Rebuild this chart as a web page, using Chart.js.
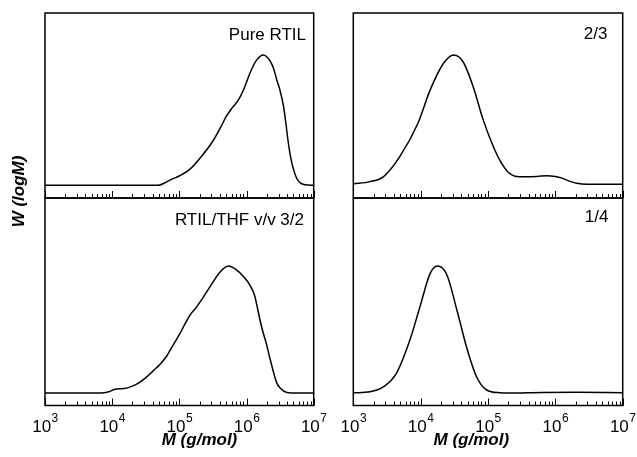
<!DOCTYPE html>
<html>
<head>
<meta charset="utf-8">
<title>GPC traces</title>
<script src="https://cdn.jsdelivr.net/npm/chart.js@4.4.1/dist/chart.umd.min.js"></script>
<style>
  html, body { margin: 0; padding: 0; background: #fff; }
  #wrap { position: relative; width: 637px; height: 457px; }
  #wrap canvas { position: absolute; left: 0; top: 0; }
</style>
</head>
<body>
<div id="wrap">
  <canvas id="c-tl" width="637" height="457"></canvas>
  <canvas id="c-tr" width="637" height="457"></canvas>
  <canvas id="c-bl" width="637" height="457"></canvas>
  <canvas id="c-br" width="637" height="457"></canvas>
</div>
<script>
// x values are log10(M); y is W(logM), peak = 1

// Pure RTIL
const pureLogM = [3.00, 4.00, 4.69, 4.78, 4.86, 5.01, 5.15, 5.31, 5.50, 5.62, 5.70, 5.78, 5.88, 5.97, 6.05, 6.15, 6.25, 6.35, 6.40, 6.45, 6.50, 6.55, 6.585, 6.62, 6.655, 6.695, 6.75, 6.80, 6.87, 7.00];
const pureW    = [0, 0, 0, 0.018, 0.04, 0.075, 0.12, 0.21, 0.34, 0.45, 0.53, 0.59, 0.655, 0.75, 0.86, 0.96, 1.0, 0.955, 0.90, 0.81, 0.725, 0.61, 0.48, 0.335, 0.22, 0.13, 0.05, 0.018, 0.004, 0];

// RTIL/THF 2/3
const r23LogM = [3.00, 3.25, 3.45, 3.69, 3.96, 4.14, 4.34, 4.49, 4.63, 4.78, 4.93, 5.08, 5.20, 5.30, 5.40, 5.55, 5.73, 5.87, 6.00, 6.10, 6.22, 6.32, 6.47, 7.00];
const r23W    = [0.01, 0.028, 0.067, 0.22, 0.476, 0.73, 0.936, 1.0, 0.948, 0.757, 0.50, 0.296, 0.17, 0.10, 0.07, 0.065, 0.068, 0.074, 0.068, 0.055, 0.03, 0.015, 0.008, 0.008];

// RTIL/THF 3/2
const r32LogM = [3.00, 3.82, 3.95, 4.04, 4.17, 4.30, 4.41, 4.51, 4.61, 4.71, 4.81, 4.91, 5.01, 5.10, 5.16, 5.23, 5.35, 5.46, 5.60, 5.73, 5.85, 5.95, 6.05, 6.125, 6.15, 6.225, 6.30, 6.35, 6.45, 6.50, 6.60, 6.75, 7.00];
const r32W    = [0, 0, 0.01, 0.03, 0.035, 0.055, 0.085, 0.125, 0.175, 0.225, 0.29, 0.38, 0.47, 0.56, 0.615, 0.66, 0.75, 0.84, 0.95, 1.0, 0.97, 0.92, 0.85, 0.76, 0.70, 0.52, 0.38, 0.27, 0.08, 0.04, 0.005, 0, 0];

// RTIL/THF 1/4
const r14LogM = [3.00, 3.25, 3.45, 3.64, 3.84, 3.99, 4.14, 4.25, 4.39, 4.54, 4.68, 4.83, 4.98, 5.18, 5.30, 5.80, 6.30, 7.00];
const r14W    = [0.002, 0.01, 0.05, 0.155, 0.417, 0.68, 0.94, 1.0, 0.93, 0.65, 0.365, 0.128, 0.024, 0.002, 0, 0.005, 0.006, 0.003];

// axis ticks
const decadeValues = [1e3, 1e4, 1e5, 1e6, 1e7];
const decadeExps   = ['3', '4', '5', '6', '7'];
const minorMults   = [2, 3, 4, 5, 6, 7, 8, 9];

const FONT = '"Liberation Sans", Arial, Helvetica, sans-serif';

function toPoints(logM, w) {
    return logM.map((v, i) => ({ x: Math.pow(10, v), y: w[i] }));
}

// frame, inward ticks, labels
function makeDeco(cfg) {
    return {
        id: 'deco',
        afterDraw(chart) {
            const ctx = chart.ctx;
            const a = chart.chartArea;
            const xs = chart.scales.x;
            ctx.save();
            ctx.strokeStyle = '#000';
            ctx.fillStyle = '#000';
            ctx.lineWidth = 1.5;
            ctx.strokeRect(a.left, a.top, a.right - a.left, a.bottom - a.top);

            // ticks point up from the bottom edge
            ctx.lineWidth = 1;
            ctx.beginPath();
            decadeValues.forEach((d, i) => {
                const px = Math.round(xs.getPixelForValue(d)) + 0.5;
                ctx.moveTo(px, a.bottom);
                ctx.lineTo(px, a.bottom - 7);
                if (i < decadeValues.length - 1) {
                    minorMults.forEach(m => {
                        const mx = Math.round(xs.getPixelForValue(d * m)) + 0.5;
                        ctx.moveTo(mx, a.bottom);
                        ctx.lineTo(mx, a.bottom - 4);
                    });
                }
            });
            ctx.stroke();

            // panel title
            ctx.font = '17px ' + FONT;
            ctx.textAlign = 'right';
            ctx.textBaseline = 'alphabetic';
            ctx.fillText(cfg.title, cfg.titleX, cfg.titleY);

            if (cfg.tickLabels) {
                decadeValues.forEach((d, i) => {
                    const px = xs.getPixelForValue(d);
                    ctx.font = '17px ' + FONT;
                    const w1 = ctx.measureText('10').width;
                    ctx.font = '12px ' + FONT;
                    const w2 = ctx.measureText(decadeExps[i]).width;
                    const x0 = px - (w1 + w2) / 2;
                    ctx.textAlign = 'left';
                    ctx.font = '17px ' + FONT;
                    ctx.fillText('10', x0, 431.5);
                    ctx.font = '12px ' + FONT;
                    ctx.fillText(decadeExps[i], x0 + w1 + 0.5, 422);
                });
                ctx.font = 'italic bold 17px ' + FONT;
                ctx.textAlign = 'center';
                ctx.fillText('M (g/mol)', cfg.xTitleX, 445);
            }

            if (cfg.yTitle) {
                ctx.translate(23.5, 191.5);
                ctx.rotate(-Math.PI / 2);
                ctx.font = 'italic bold 17px ' + FONT;
                ctx.textAlign = 'center';
                ctx.fillText(cfg.yTitle, 0, 0);
            }
            ctx.restore();
        }
    };
}

function makePanel(id, logM, w, yMin, yMax, padding, deco) {
    const ctx = document.getElementById(id).getContext('2d');
    return new Chart(ctx, {
        type: 'line',
        data: {
            datasets: [{
                data: toPoints(logM, w),
                borderColor: '#000',
                borderWidth: 1.5,
                pointRadius: 0,
                fill: false,
                cubicInterpolationMode: 'monotone'
            }]
        },
        options: {
            responsive: false,
            animation: false,
            events: [],
            layout: { padding: padding },
            plugins: {
                legend: { display: false },
                tooltip: { enabled: false }
            },
            scales: {
                x: { type: 'logarithmic', min: 1e3, max: 1e7, display: false },
                y: { type: 'linear', min: yMin, max: yMax, display: false }
            }
        },
        plugins: [makeDeco(deco)]
    });
}

// top row: y 13..198, bottom row: y 198..405.5
makePanel('c-tl', pureLogM, pureW, -0.0975, 1.322,
    { left: 45, top: 13, right: 323.3, bottom: 259 },
    { title: 'Pure RTIL', titleX: 306, titleY: 40, yTitle: 'W (logM)' });

makePanel('c-tr', r23LogM, r23W, -0.0975, 1.322,
    { left: 353.3, top: 13, right: 14.3, bottom: 259 },
    { title: '2/3', titleX: 607.5, titleY: 39 });

makePanel('c-bl', r32LogM, r32W, -0.098, 1.536,
    { left: 45, top: 198, right: 323.3, bottom: 51.5 },
    { title: 'RTIL/THF v/v 3/2', titleX: 304, titleY: 224.5, tickLabels: true, xTitleX: 199.5 });

makePanel('c-br', r14LogM, r14W, -0.098, 1.536,
    { left: 353.3, top: 198, right: 14.3, bottom: 51.5 },
    { title: '1/4', titleX: 608.5, titleY: 222, tickLabels: true, xTitleX: 471.3 });
</script>
</body>
</html>
